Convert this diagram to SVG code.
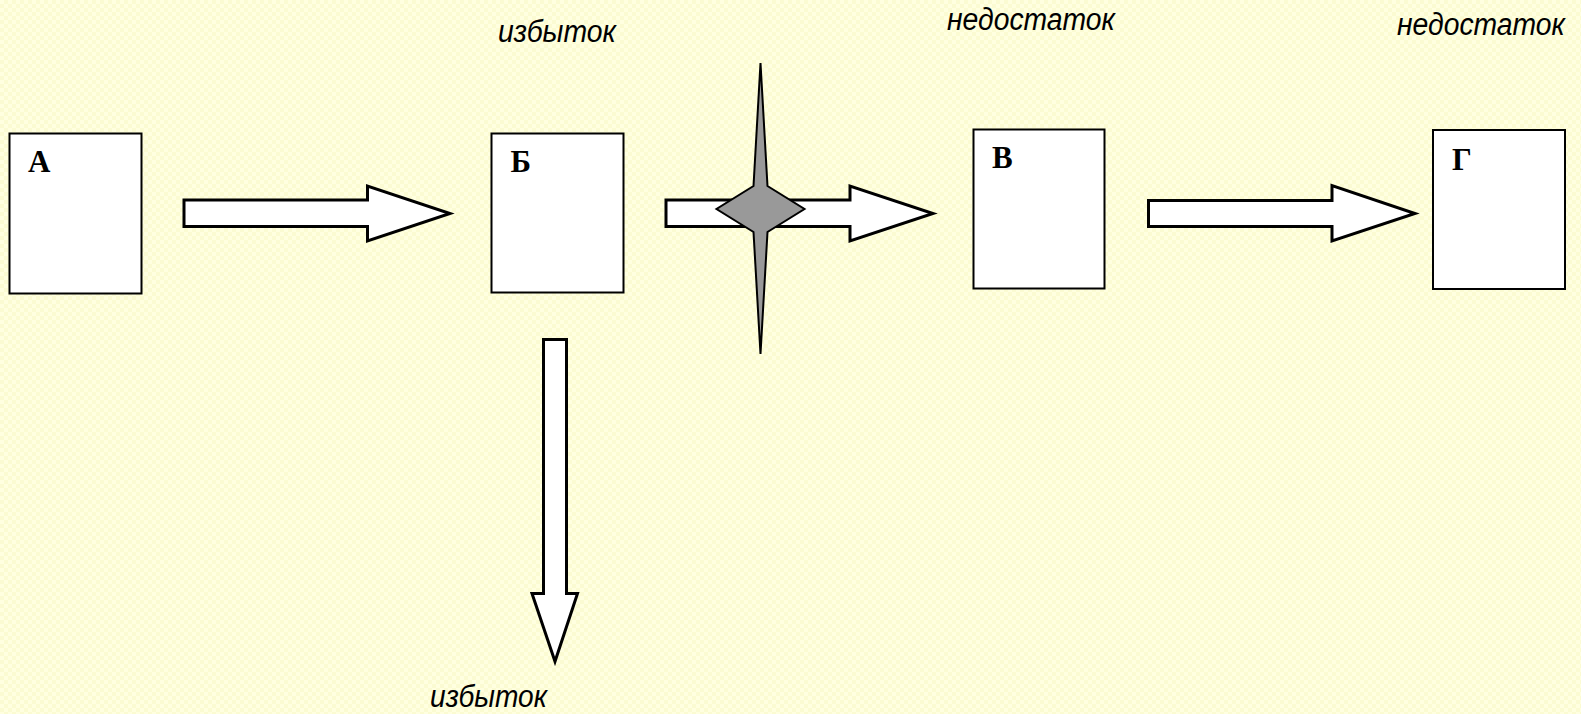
<svg xmlns="http://www.w3.org/2000/svg" width="1581" height="714" viewBox="0 0 1581 714">
<defs>
<pattern id="bg" width="8" height="8" patternUnits="userSpaceOnUse">
<rect width="8" height="8" fill="#FBFBD2"/>
<path d="M0 0 L4 0 L4 4 L0 4 Z M4 4 L8 4 L8 8 L4 8 Z" fill="#FFFFE0"/>
</pattern>
<style>
.box{fill:#FFFFFF;stroke:#000;stroke-width:2}
.lbl{font-family:"Liberation Serif","Times New Roman",serif;font-weight:bold;font-size:31px;fill:#000}
.arr{fill:#FFFFFF;stroke:#000;stroke-width:3;stroke-linejoin:miter}
.note{font-family:"Liberation Sans",Arial,sans-serif;font-style:italic;font-size:31px;fill:#000}
.star{fill:#999999;stroke:#000;stroke-width:2;stroke-linejoin:miter}
</style>
</defs>
<rect width="1581" height="714" fill="url(#bg)"/>

<g id="connectors">
<path class="arr" d="M184 200 L367.5 200 L367.5 186 L450 213.5 L367.5 241 L367.5 226.5 L184 226.5 Z"/>
<path class="arr" d="M666 200 L850 200 L850 186 L933 213.5 L850 241 L850 226.5 L666 226.5 Z"/>
<path class="arr" d="M1148.5 200.5 L1332 200.5 L1332 185.5 L1415 213.5 L1332 241 L1332 226.5 L1148.5 226.5 Z"/>
<path class="arr" d="M543.5 339.5 L566.5 339.5 L566.5 593.5 L577.5 593.5 L555 661.5 L532 593.5 L543.5 593.5 Z"/>
</g>

<g id="blocker">
<path class="star" d="M760.5 63 L767.5 186 L804.5 209 L767.5 232 L760.5 354 L753.5 232 L716.5 209 L753.5 186 Z"/>
</g>

<g id="node-A">
<rect class="box" x="9.5" y="133.5" width="132" height="160"/>
<text class="lbl" x="28" y="172">А</text>
</g>
<g id="node-B">
<rect class="box" x="491.5" y="133.5" width="132" height="159"/>
<text class="lbl" x="510.5" y="172">Б</text>
</g>
<g id="node-V">
<rect class="box" x="973.5" y="129.5" width="131" height="159"/>
<text class="lbl" x="992" y="168">В</text>
</g>
<g id="node-G">
<rect class="box" x="1433" y="130" width="132" height="159"/>
<text class="lbl" x="1452" y="169.5">Г</text>
</g>

<g id="notes">
<text class="note" x="498" y="41.5" textLength="118" lengthAdjust="spacingAndGlyphs">избыток</text>
<text class="note" x="947" y="29.5" textLength="168" lengthAdjust="spacingAndGlyphs">недостаток</text>
<text class="note" x="1397" y="34.5" textLength="168" lengthAdjust="spacingAndGlyphs">недостаток</text>
<text class="note" x="430" y="707" textLength="117" lengthAdjust="spacingAndGlyphs">избыток</text>
</g>
</svg>
